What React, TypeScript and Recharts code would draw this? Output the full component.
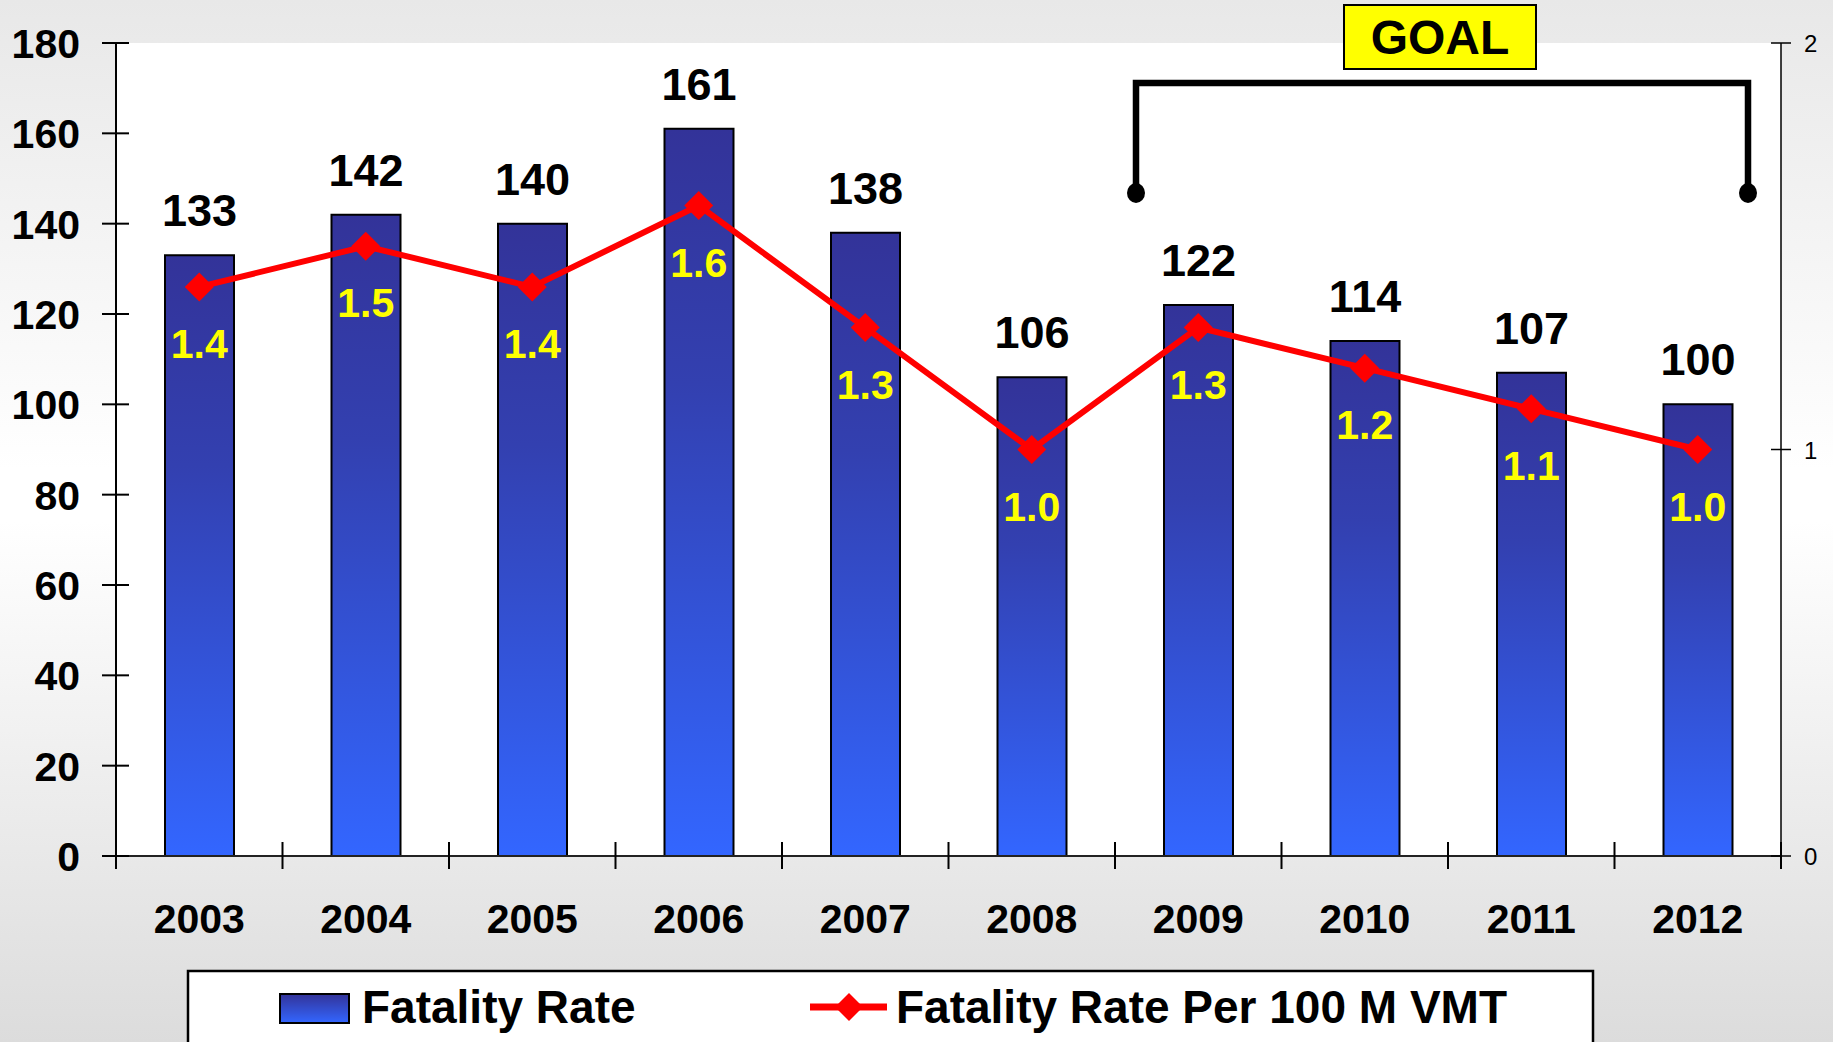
import React from "react";
import {
  ComposedChart,
  Bar,
  Line,
  XAxis,
  YAxis,
  CartesianGrid,
  LabelList,
} from "recharts";

const years = ["2003", "2004", "2005", "2006", "2007", "2008", "2009", "2010", "2011", "2012"];
const fatalities = [133, 142, 140, 161, 138, 106, 122, 114, 107, 100];
const ratePer100M = [1.4, 1.5, 1.4, 1.6, 1.3, 1.0, 1.3, 1.2, 1.1, 1.0];
const leftTicks = [0, 20, 40, 60, 80, 100, 120, 140, 160, 180];
const rightTicks = [0, 1, 2];

const data = years.map((year, i) => ({
  year,
  fatalities: fatalities[i],
  rate: ratePer100M[i],
}));

const W = 1833;
const H = 1042;
const FONT = "'Liberation Sans', Arial, sans-serif";
const HALF_BAND = (W - 116 - 52) / years.length / 2;

function XTick(props: any) {
  const { x, y, payload, index } = props;
  const half = payload?.offset || HALF_BAND;
  const last = index === years.length - 1;
  return (
    <g>
      <line x1={x - half} x2={x - half} y1={y - 14} y2={y + 13} stroke="#000" strokeWidth={2} />
      {last && <line x1={x + half} x2={x + half} y1={y - 14} y2={y + 13} stroke="#000" strokeWidth={2} />}
      <text x={x} y={y + 77} textAnchor="middle" fontSize={41} fontWeight={700} fontFamily={FONT} fill="#000">
        {payload.value}
      </text>
    </g>
  );
}

function LeftTick(props: any) {
  const { x, y, payload } = props;
  return (
    <g>
      <line x1={x + 22} x2={x + 49} y1={y} y2={y} stroke="#000" strokeWidth={2} />
      <text x={x} y={y} dy={15} textAnchor="end" fontSize={41} fontWeight={700} fontFamily={FONT} fill="#000">
        {payload.value}
      </text>
    </g>
  );
}

function RightTick(props: any) {
  const { x, y, payload } = props;
  return (
    <g>
      <line x1={x - 33} x2={x - 13} y1={y} y2={y} stroke="#000" strokeWidth={1.5} />
      <text x={x} y={y} dy={9} textAnchor="start" fontSize={24} fontFamily={FONT} fill="#000">
        {payload.value}
      </text>
    </g>
  );
}

function Diamond(props: any) {
  const { cx, cy } = props;
  if (cx == null || cy == null) return null;
  const s = 14.5;
  return (
    <polygon
      points={`${cx},${cy - s} ${cx + s},${cy} ${cx},${cy + s} ${cx - s},${cy}`}
      fill="#ff0000"
    />
  );
}

function BarValueLabel(props: any) {
  const { x, y, width, value } = props;
  return (
    <text x={x + width / 2} y={y - 29} textAnchor="middle" fontSize={45} fontWeight={700} fontFamily={FONT} fill="#000">
      {value}
    </text>
  );
}

function RateLabel(props: any) {
  const { x, y, value } = props;
  return (
    <text x={x} y={y + 71} textAnchor="middle" fontSize={41} fontWeight={700} fontFamily={FONT} fill="#ffff00">
      {Number(value).toFixed(1)}
    </text>
  );
}

export default function App() {
  return (
    <div
      style={{
        position: "absolute",
        left: 0,
        top: 0,
        width: W,
        height: H,
        overflow: "hidden",
        background: "linear-gradient(to bottom, #e8e8e8 0%, #ffffff 45%, #ffffff 50%, #dcdcdc 100%)",
      }}
    >
      <ComposedChart
        width={W}
        height={H}
        data={data}
        margin={{ top: 43, right: 0, bottom: 0, left: 0 }}
        barSize={69}
      >
        <defs>
          <linearGradient id="barGrad" x1="0" y1="0" x2="0" y2="1">
            <stop offset="0%" stopColor="#333399" />
            <stop offset="35%" stopColor="#3340b0" />
            <stop offset="100%" stopColor="#3366ff" />
          </linearGradient>
        </defs>
        <CartesianGrid yAxisId="left" fill="#ffffff" horizontal={false} vertical={false} />
        <XAxis
          dataKey="year"
          height={186}
          tickLine={false}
          tickSize={0}
          tickMargin={0}
          axisLine={{ stroke: "#222", strokeWidth: 2 }}
          tick={<XTick />}
          interval={0}
        />
        <YAxis
          yAxisId="left"
          orientation="left"
          width={116}
          domain={[0, 180]}
          ticks={leftTicks}
          tickLine={false}
          tickSize={0}
          tickMargin={36}
          axisLine={{ stroke: "#000", strokeWidth: 2 }}
          tick={<LeftTick />}
          interval={0}
        />
        <YAxis
          yAxisId="right"
          orientation="right"
          width={52}
          domain={[0, 2]}
          ticks={rightTicks}
          tickLine={false}
          tickSize={0}
          tickMargin={23}
          axisLine={{ stroke: "#000", strokeWidth: 1.5 }}
          tick={<RightTick />}
          interval={0}
        />
        <Bar
          yAxisId="left"
          dataKey="fatalities"
          fill="url(#barGrad)"
          stroke="#000"
          strokeWidth={2}
          isAnimationActive={false}
        >
          <LabelList dataKey="fatalities" content={<BarValueLabel />} />
        </Bar>
        <Line
          yAxisId="right"
          dataKey="rate"
          stroke="#ff0000"
          strokeWidth={6}
          dot={<Diamond />}
          activeDot={false}
          isAnimationActive={false}
        >
          <LabelList dataKey="rate" content={<RateLabel />} />
        </Line>
      </ComposedChart>

      <svg
        width={W}
        height={H}
        style={{ position: "absolute", left: 0, top: 0, pointerEvents: "none" }}
      >
        {/* goal bracket */}
        <rect x={1344} y={5} width={192} height={64} fill="#ffff00" stroke="#000" strokeWidth={2} />
        <text x={1440} y={54} textAnchor="middle" fontSize={48} fontWeight={700} fontFamily={FONT} fill="#000">
          GOAL
        </text>
        <polyline
          points="1136,193 1136,83 1748,83 1748,193"
          fill="none"
          stroke="#000"
          strokeWidth={6.5}
        />
        <ellipse cx={1136} cy={193} rx={9} ry={10} fill="#000" />
        <ellipse cx={1748} cy={193} rx={9} ry={10} fill="#000" />

        {/* legend */}
        <rect x={188} y={971} width={1405} height={90} fill="#ffffff" stroke="#000" strokeWidth={2.5} />
        <rect x={280} y={994} width={69} height={29} fill="url(#legendGrad)" stroke="#000" strokeWidth={2} />
        <defs>
          <linearGradient id="legendGrad" x1="0" y1="0" x2="0" y2="1">
            <stop offset="0%" stopColor="#333399" />
            <stop offset="100%" stopColor="#3366ff" />
          </linearGradient>
        </defs>
        <text x={362} y={1023} fontSize={46} fontWeight={700} fontFamily={FONT} fill="#000">
          Fatality Rate
        </text>
        <line x1={810} x2={887} y1={1007} y2={1007} stroke="#ff0000" strokeWidth={7} />
        <polygon points="849,993 863,1007 849,1021 835,1007" fill="#ff0000" />
        <text x={896} y={1023} fontSize={46} fontWeight={700} fontFamily={FONT} fill="#000">
          Fatality Rate Per 100 M VMT
        </text>
      </svg>
    </div>
  );
}
